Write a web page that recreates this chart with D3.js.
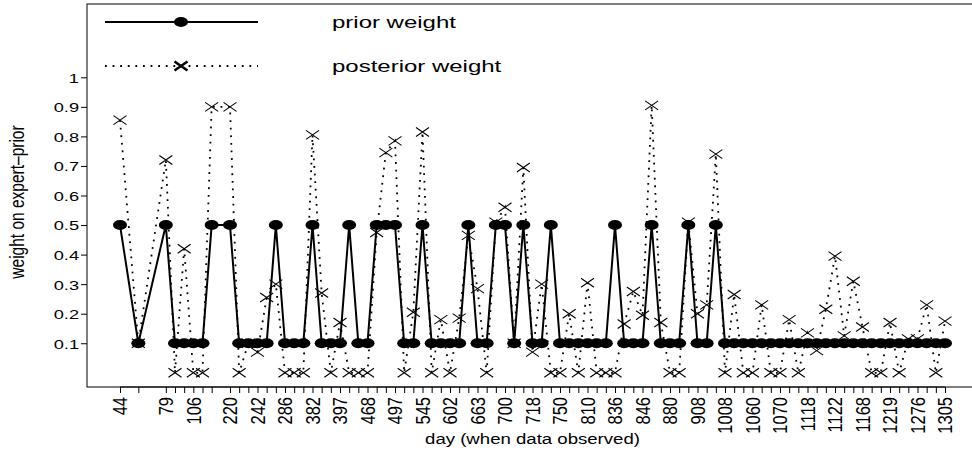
<!DOCTYPE html>
<html>
<head>
<meta charset="utf-8">
<script src="https://cdn.jsdelivr.net/npm/d3@7"></script>
<style>
body { margin: 0; background: #fff; }
svg text { font-family: "Liberation Sans", Arial, sans-serif; fill: #000; }
</style>
</head>
<body>
<svg id="chart" width="972" height="454"></svg>
<script>
// observation index used as x (some indices have no data)
var obs = [0, 2, 5, 6, 7, 8, 9, 10,
    12, 13, 14, 15, 16, 17, 18, 19, 20, 21, 22, 23, 24, 25, 26, 27, 28, 29, 30,
    31, 32, 33, 34, 35, 36, 37, 38, 39, 40, 41, 42, 43, 44, 45, 46, 47, 48, 49, 50,
    51, 52, 53, 54, 55, 56, 57, 58, 59, 60, 61, 62, 63, 64, 65, 66, 67, 68, 69, 70,
    71, 72, 73, 74, 75, 76, 77, 78, 79, 80, 81, 82, 83, 84, 85, 86, 87, 88, 89, 90];

var prior = [0.5, 0.1, 0.5, 0.1, 0.1, 0.1, 0.1, 0.5,
    0.5, 0.1, 0.1, 0.1, 0.1, 0.5, 0.1, 0.1, 0.1, 0.5,
    0.1, 0.1, 0.1, 0.5, 0.1, 0.1, 0.5, 0.5, 0.5, 0.1,
    0.1, 0.5, 0.1, 0.1, 0.1, 0.1, 0.5, 0.1, 0.1, 0.5,
    0.5, 0.1, 0.5, 0.1, 0.1, 0.5, 0.1, 0.1, 0.1, 0.1,
    0.1, 0.1, 0.5, 0.1, 0.1, 0.1, 0.5, 0.1, 0.1, 0.1,
    0.5, 0.1, 0.1, 0.5,
    0.1, 0.1, 0.1, 0.1, 0.1, 0.1, 0.1, 0.1, 0.1, 0.1, 0.1, 0.1, 0.1,
    0.1, 0.1, 0.1, 0.1, 0.1, 0.1, 0.1, 0.1, 0.1, 0.1, 0.1, 0.1];

var posterior = [0.855, 0.1, 0.72, 0, 0.42, 0, 0, 0.9,
    0.9, 0, 0.1, 0.07, 0.255, 0.3, 0, 0, 0, 0.805,
    0.27, 0, 0.17, 0, 0, 0, 0.475, 0.745, 0.785, 0,
    0.205, 0.815, 0, 0.18, 0, 0.185, 0.465, 0.285, 0, 0.51,
    0.56, 0.1, 0.695, 0.07, 0.3, 0, 0, 0.2, 0, 0.305,
    0, 0, 0, 0.165, 0.275, 0.195, 0.905, 0.17, 0, 0,
    0.51, 0.2, 0.23, 0.74,
    0, 0.265, 0, 0, 0.23, 0, 0, 0.18, 0, 0.135, 0.075, 0.215, 0.395,
    0.125, 0.31, 0.155, 0, 0, 0.17, 0, 0.115, 0.115, 0.23, 0, 0.175];

// labelled ticks (the rest of the ticks carry no label)
var tickObs = [0, 5, 8, 12, 15, 18, 21, 24, 27, 30, 33, 36, 39, 42, 45,
    48, 51, 54, 57, 60, 63, 66, 69, 72, 75, 78, 81, 84, 87, 90];
var tickDays = ["44", "79", "106", "220", "242", "286", "382", "397", "468", "497",
    "545", "602", "663", "700", "718", "750", "810", "836", "846", "880",
    "908", "1008", "1060", "1070", "1118", "1122", "1168", "1219", "1276", "1305"];

var yTicks = [0.1, 0.2, 0.3, 0.4, 0.5, 0.6, 0.7, 0.8, 0.9, 1];
var yLimits = [0, 1.2];

var svg = d3.select("svg#chart");
var stretch = 1.35;

var plotL = 87, plotR = 978, plotT = 4, plotB = 387;

var xe = d3.extent(obs), xpad = (xe[1] - xe[0]) * 0.04;
var ype = (yLimits[1] - yLimits[0]) * 0.04;

var x = d3.scaleLinear()
    .domain([xe[0] - xpad, xe[1] + xpad])
    .range([plotL, plotR]);

var y = d3.scaleLinear()
    .domain([yLimits[0] - ype, yLimits[1] + ype])
    .range([plotB, plotT]);

var data = obs.map(function(o, i) {
    return { obs: o, prior: prior[i], posterior: posterior[i] };
});

var labelOf = {};
tickObs.forEach(function(o, i) { labelOf[o] = tickDays[i]; });

// box
svg.append("rect")
    .attr("x", plotL)
    .attr("y", plotT)
    .attr("width", plotR - plotL)
    .attr("height", plotB - plotT)
    .attr("fill", "none")
    .attr("stroke", "#000")
    .attr("stroke-width", 1);

// x axis
var xAxis = svg.append("g")
    .attr("transform", "translate(0," + plotB + ")")
    .call(d3.axisBottom(x)
        .tickValues(obs)
        .tickSize(6)
        .tickSizeOuter(0)
        .tickFormat(function(d) { return labelOf[d] || ""; }));
xAxis.select(".domain").remove();
xAxis.selectAll("line").attr("stroke", "#000");
xAxis.selectAll("text")
    .style("font-size", "16.5px")
    .attr("font-family", "Liberation Sans, Arial, sans-serif")
    .attr("text-anchor", "end")
    .attr("x", -10)
    .attr("y", 0)
    .attr("dy", "0.35em")
    .attr("transform", "rotate(-90) scale(1,1.2)");
svg.append("line")
    .attr("x1", x(xe[0])).attr("x2", x(xe[1]))
    .attr("y1", plotB).attr("y2", plotB)
    .attr("stroke", "#000");

// y axis
var yAxis = svg.append("g")
    .attr("transform", "translate(" + plotL + ",0)")
    .call(d3.axisLeft(y)
        .tickValues(yTicks)
        .tickSize(6)
        .tickSizeOuter(0)
        .tickFormat(function(d) { return d3.format("")(d); }));
yAxis.select(".domain").remove();
yAxis.selectAll("line").attr("stroke", "#000");
yAxis.selectAll("text")
    .style("font-size", "13.5px")
    .attr("font-family", "Liberation Sans, Arial, sans-serif")
    .attr("x", 0)
    .attr("dy", "0.36em")
    .attr("transform", "translate(-8,0) scale(" + stretch + ",1)");

// titles
svg.append("text")
    .attr("transform", "translate(" + (plotL + plotR) / 2 + ",444) scale(1.2,1)")
    .attr("text-anchor", "middle")
    .style("font-size", "15.5px")
    .text("day (when data observed)");

svg.append("text")
    .attr("transform", "translate(24,202) rotate(-90) scale(1," + stretch + ")")
    .attr("text-anchor", "middle")
    .style("font-size", "15.5px")
    .text("weight on expert\u2013prior");

var cross = "M-6.5,-4.5L6.5,4.5M-6.5,4.5L6.5,-4.5";

// prior weight
svg.append("path")
    .datum(data)
    .attr("fill", "none")
    .attr("stroke", "#000")
    .attr("stroke-width", 2)
    .attr("d", d3.line().x(d => x(d.obs)).y(d => y(d.prior)));

svg.selectAll("ellipse.prior")
    .data(data)
    .enter()
    .append("ellipse")
    .attr("class", "prior")
    .attr("cx", d => x(d.obs))
    .attr("cy", d => y(d.prior))
    .attr("rx", 7)
    .attr("ry", 5)
    .attr("fill", "#000");

// posterior weight
svg.append("path")
    .datum(data)
    .attr("fill", "none")
    .attr("stroke", "#000")
    .attr("stroke-width", 1.8)
    .attr("stroke-dasharray", "1.8,5.8")
    .attr("d", d3.line().x(d => x(d.obs)).y(d => y(d.posterior)));

svg.selectAll("path.post")
    .data(data)
    .enter()
    .append("path")
    .attr("class", "post")
    .attr("transform", d => "translate(" + x(d.obs) + "," + y(d.posterior) + ")")
    .attr("d", cross)
    .attr("fill", "none")
    .attr("stroke", "#000")
    .attr("stroke-width", 1.1);

// legend
var legend = svg.append("g").attr("class", "legend");

legend.append("line")
    .attr("x1", 105).attr("x2", 258)
    .attr("y1", 22).attr("y2", 22)
    .attr("stroke", "#000")
    .attr("stroke-width", 2);
legend.append("ellipse")
    .attr("cx", 181).attr("cy", 22)
    .attr("rx", 7).attr("ry", 5)
    .attr("fill", "#000");
legend.append("text")
    .attr("transform", "translate(332,28) scale(1.5,1)")
    .style("font-size", "16px")
    .text("prior weight");

legend.append("line")
    .attr("x1", 105).attr("x2", 258)
    .attr("y1", 66).attr("y2", 66)
    .attr("stroke", "#000")
    .attr("stroke-width", 1.8)
    .attr("stroke-dasharray", "1.8,5.8");
legend.append("path")
    .attr("transform", "translate(181,66)")
    .attr("d", cross)
    .attr("fill", "none")
    .attr("stroke", "#000")
    .attr("stroke-width", 2.6);
legend.append("text")
    .attr("transform", "translate(332,72) scale(1.5,1)")
    .style("font-size", "16px")
    .text("posterior weight");
</script>
</body>
</html>
